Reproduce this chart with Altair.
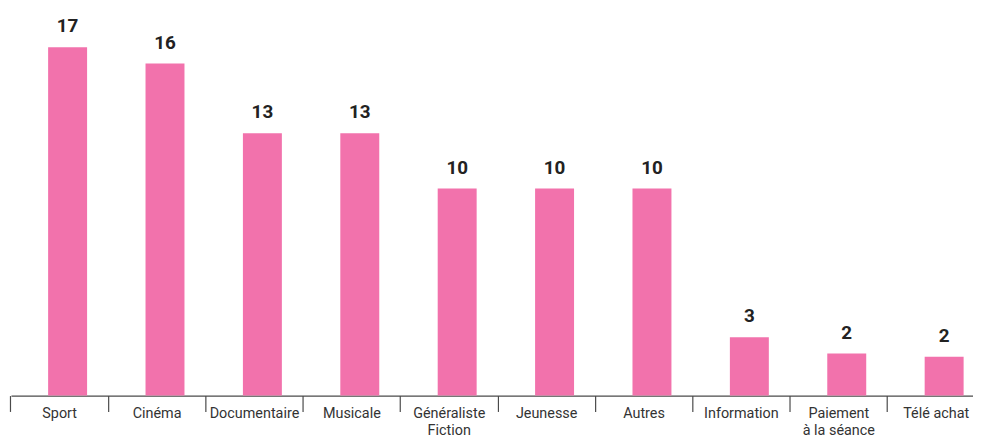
import altair as alt
import pandas as pd

categories = ["Sport", "Cinéma", "Documentaire", "Musicale", "Généraliste\nFiction",
              "Jeunesse", "Autres", "Information", "Paiement\nà la séance", "Télé achat"]
values = [17.0, 16.2, 12.8, 12.8, 10.1, 10.1, 10.1, 2.85, 2.05, 1.9]

df = pd.DataFrame({"cat": categories, "val": values})

x = alt.X("cat:N", sort=categories, title=None,
          scale=alt.Scale(range=[0, 982], paddingInner=0.6, paddingOuter=0.3),
          axis=alt.Axis(labelAngle=0, labelFont="Roboto", labelFontSize=14.5, labelColor="#333333",
                        labelLineHeight=16.5, labelPadding=-4.5, tickSize=16, tickColor="#4a4a4a",
                        domainColor="#4a4a4a", tickWidth=1.2, domainWidth=1.2,
                        bandPosition=-0.75, labelExpr="split(datum.label, '\\n')"))
y = alt.Y("val:Q", scale=alt.Scale(domain=[0, 18], nice=False), axis=None)

bars = alt.Chart(df).mark_bar(color="#F272AC", xOffset=8).encode(x=x, y=y)
labels = alt.Chart(df).mark_text(font="Roboto", fontWeight="bold", fontSize=19, color="#222222",
                                 baseline="alphabetic", dy=-15, xOffset=8).encode(
    x=alt.X("cat:N", sort=categories), y=y, text=alt.Text("val:Q", format=".0f"))

chart = (bars + labels).properties(
    width=970, height=372,
    autosize=alt.AutoSizeParams(type="none"),
    padding={"left": 3, "top": 17, "right": 0, "bottom": 42},
).configure_view(stroke=None)

chart.save("out.html", embed_options={"renderer": "svg", "actions": False})
